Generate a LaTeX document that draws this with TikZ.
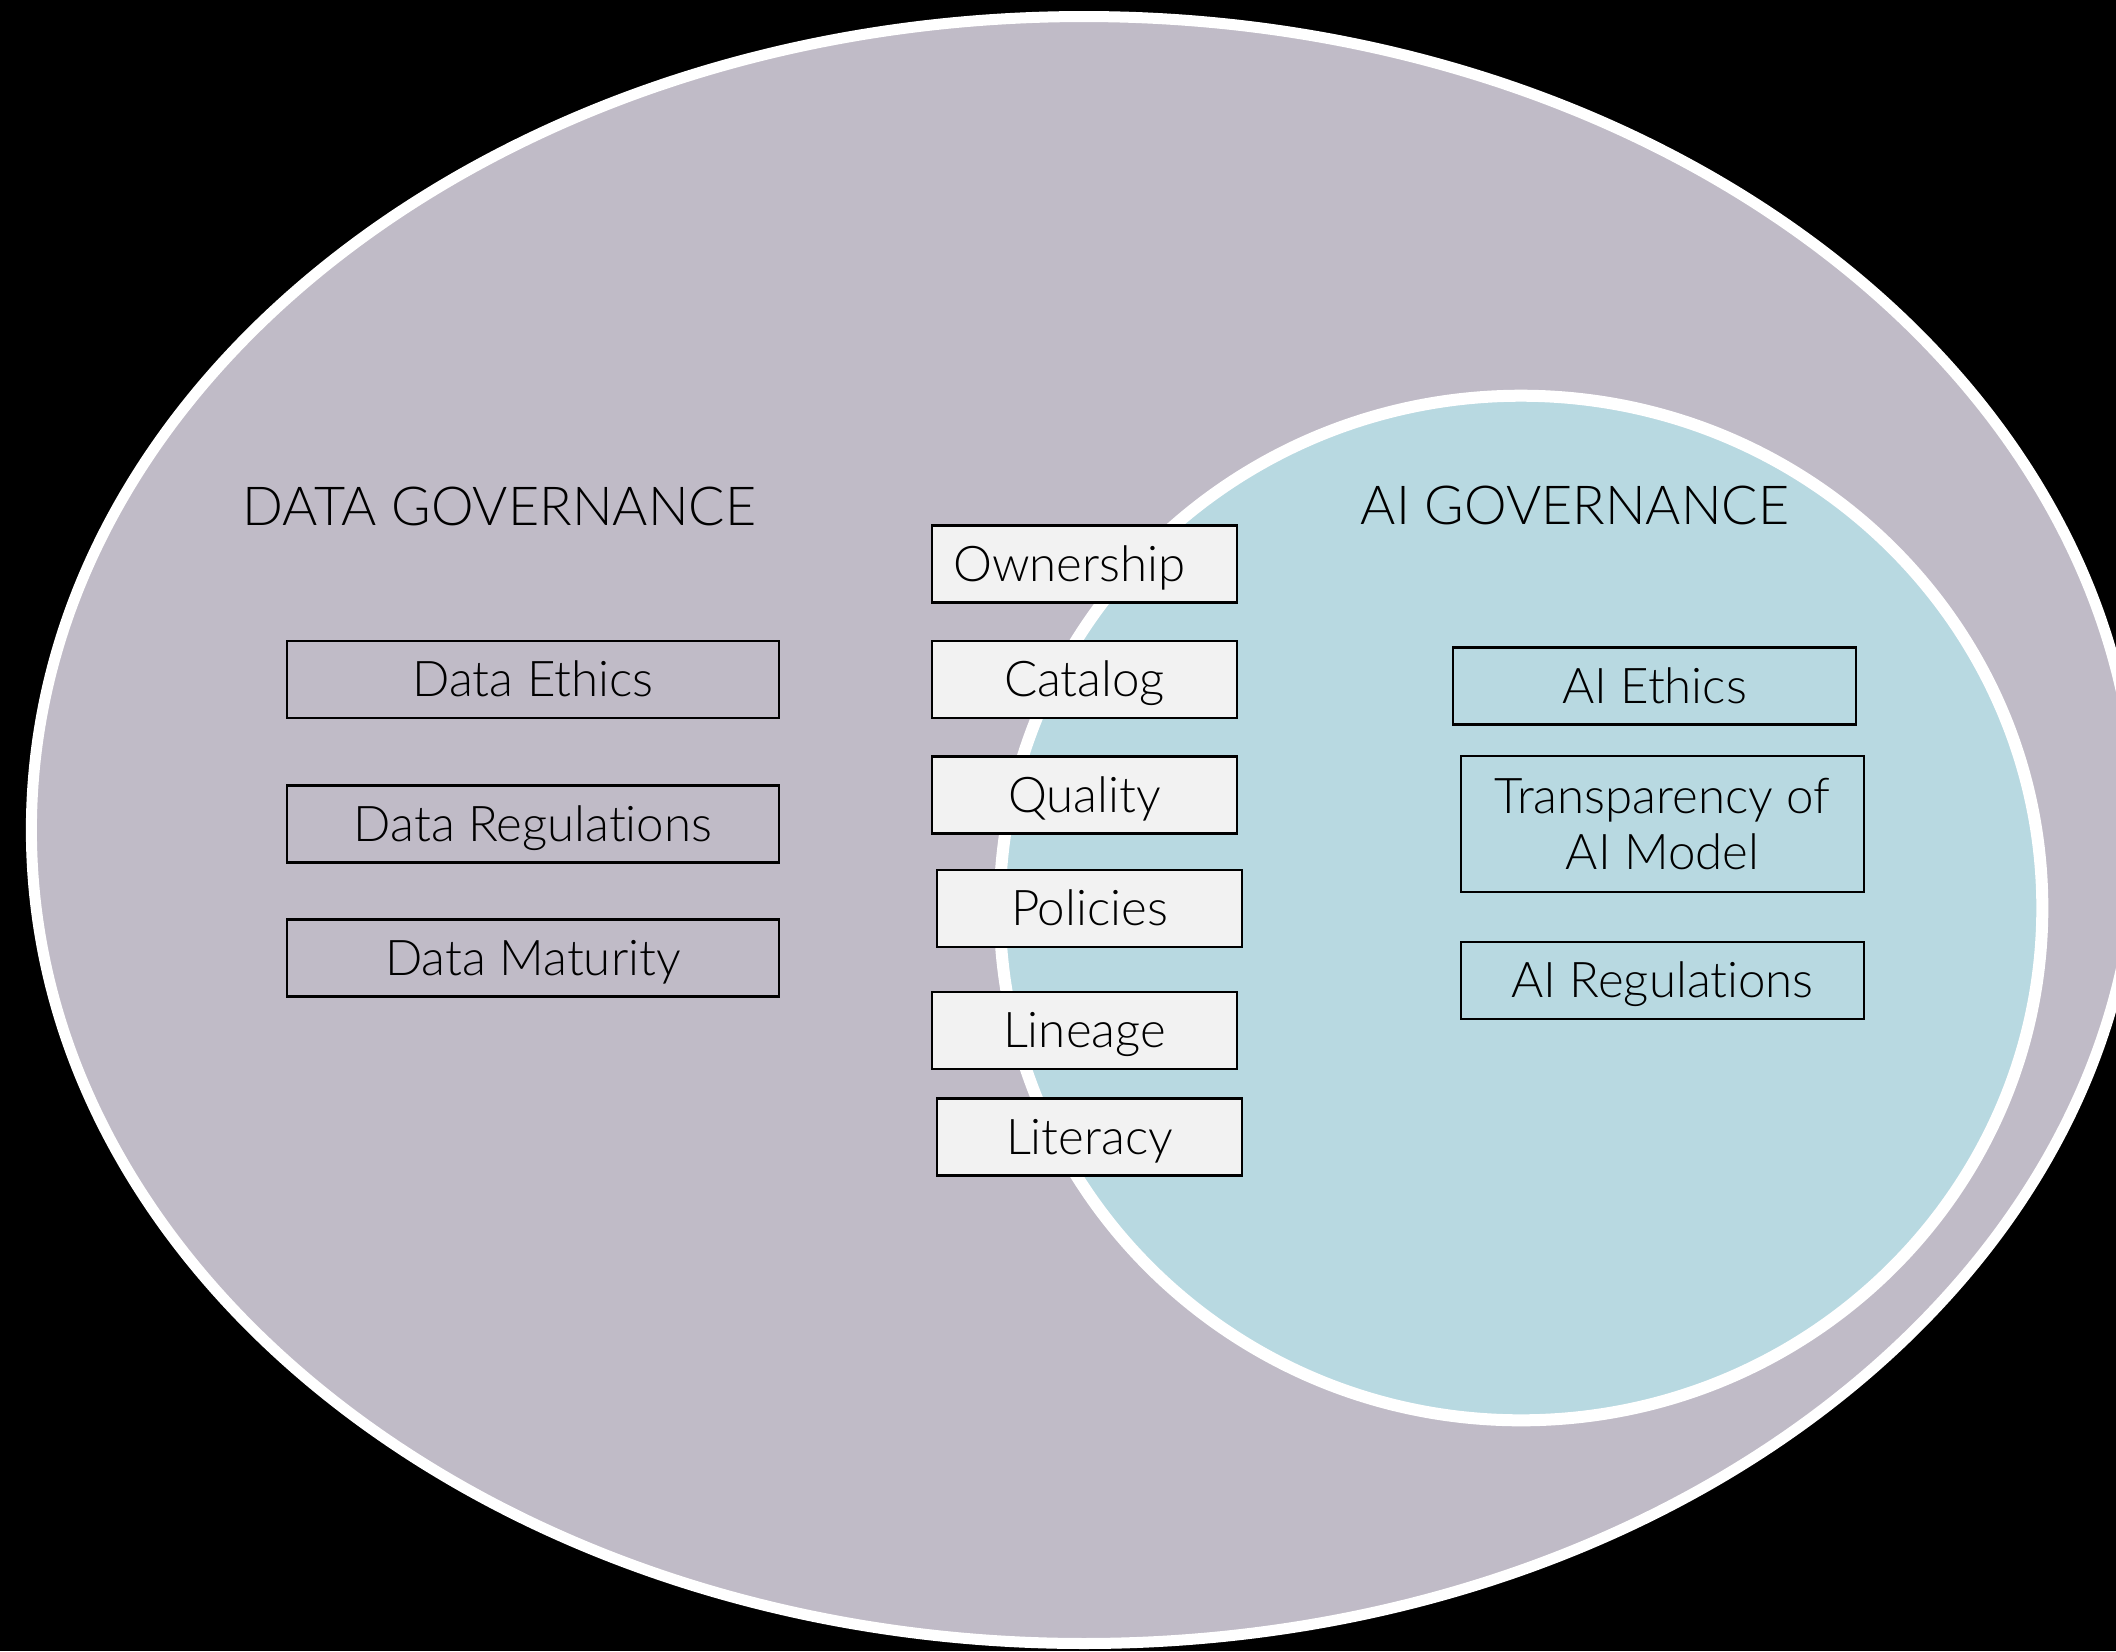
\documentclass[tikz,border=0pt]{standalone}
\usepackage{fontspec}
\setmainfont{Lato Light}[Ligatures=NoCommon]
\definecolor{outerfill}{HTML}{C0BBC7}
\definecolor{innerfill}{HTML}{B8D9E1}
\definecolor{boxgrey}{HTML}{F2F2F2}
\begin{document}
\begin{tikzpicture}[x=0.01cm,y=-0.01cm,
  itembox/.style={draw=black,line width=0.6pt,inner sep=0pt,text height=0.34cm,text depth=0pt,
    font=\fontsize{14}{16}\selectfont},
  midbox/.style={itembox,fill=boxgrey,minimum width=3.05cm,minimum height=0.77cm},
  leftbox/.style={itembox,minimum width=4.92cm,minimum height=0.77cm},
  rightbox/.style={itembox,minimum width=4.03cm,minimum height=0.77cm},
  plaintext/.style={inner sep=0pt,text height=0.34cm,text depth=0pt,font=\fontsize{14}{16}\selectfont},
  titletext/.style={inner sep=0pt,font=\fontsize{15.3}{18}\selectfont}]
\fill[black] (0,0) rectangle (2116,1651);
\useasboundingbox (0,0) rectangle (2116,1651);
\begin{scope}
\clip (0,0) rectangle (2116,1651);
\draw[white,line width=0.11cm,fill=outerfill] (1084,830) ellipse [x radius=10.52cm,y radius=8.13cm];
\draw[white,line width=0.12cm,fill=innerfill] (1521,908) ellipse [x radius=5.21cm,y radius=5.12cm];
\end{scope}
% titles
\node[titletext,anchor=base west] (dgov) at (242,525) {DATA GOVERNANCE};
\node[titletext,anchor=base west] (aigov) at (1360,524) {AI GOVERNANCE};
% left column
\node[leftbox] (dethics) at (533,679.5) {Data Ethics};
\node[leftbox] (dreg) at (533,824) {Data Regulations};
\node[leftbox] (dmat) at (533,958) {Data Maturity};
% middle column
\node[midbox] (own) at (1084.5,564) {Ownership\kern0.3cm};
\node[midbox] (cat) at (1084.5,679.5) {Catalog};
\node[midbox] (qual) at (1084.5,795) {Quality};
\node[midbox] (pol) at (1089.5,908.5) {Policies};
\node[midbox] (lin) at (1084.5,1030.5) {Lineage};
\node[midbox] (lit) at (1089.5,1137) {Literacy};
% right column
\node[rightbox] (aieth) at (1654.5,686) {AI Ethics};
\node[rightbox,minimum height=1.36cm] (transp) at (1662.5,824) {};
\node[plaintext] (transp1) at ([yshift=0.28cm]transp.center) {Transparency of};
\node[plaintext] (transp2) at ([yshift=-0.28cm]transp.center) {AI Model};
\node[rightbox] (aireg) at (1662.5,980.5) {AI Regulations};
\end{tikzpicture}
\end{document}
